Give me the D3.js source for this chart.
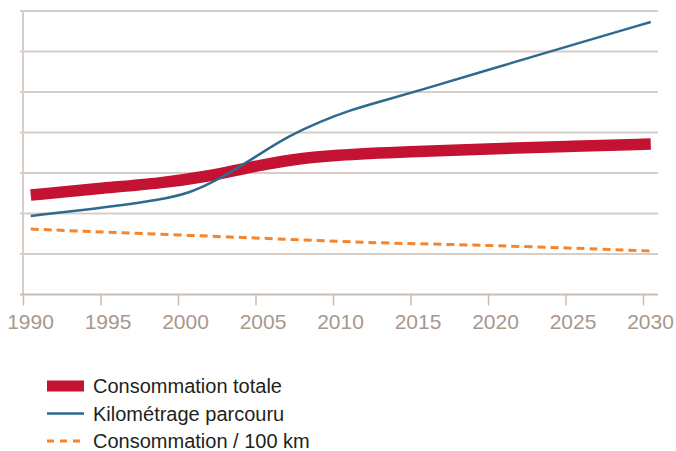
<!DOCTYPE html>
<html>
  <head>
    <meta charset="utf-8" />
    <script src="https://d3js.org/d3.v7.min.js"></script>
    <style>
      body { margin: 0; background: #fff; }
      text { font-family: "Liberation Sans", Arial, sans-serif; }
    </style>
  </head>
  <body>
    <div id="my_chart"></div>
    <script>
      // values (arbitrary index units, grid every 20)
      const yearTicks = [1990, 1995, 2000, 2005, 2010, 2015, 2020, 2025, 2030];
      const gridValues = [0, 20, 40, 60, 80, 100, 120, 140];

      const totalYears = [1990.5, 1995, 1998.9, 2002.1, 2004, 2005.3, 2007.2, 2010, 2015, 2020, 2025, 2030.5];
      const totalValues = [49.1, 52.5, 54.9, 58.6, 61.8, 63.8, 66.5, 68.9, 70.6, 71.9, 73.1, 74.3];

      const kmYears = [1990.5, 1995, 1998.9, 2000.8, 2002.1, 2003.4, 2005.3, 2007.2, 2009.2, 2011.1, 2013, 2015.6, 2020, 2025, 2030.5];
      const kmValues = [38.8, 42.7, 46.7, 50.3, 55, 60.3, 69.5, 78.5, 85.5, 91, 95.2, 100.8, 110.9, 122.2, 134.6];

      const per100Years = [1990.5, 2000, 2010, 2013, 2020, 2030.5];
      const per100Values = [32.3, 29.4, 26.4, 25.4, 24.4, 21.5];

      const legendLabels = ["Consommation totale", "Kilométrage parcouru", "Consommation / 100 km"];

      const width = 676, height = 451;
      const gridColor = "#d8cec8", axisColor = "#c9bcb3";

      const svg = d3.select("#my_chart")
        .append("svg")
        .attr("width", width)
        .attr("height", height);

      const x = d3.scaleLinear().domain([1990, 2030]).range([23, 643]);
      const y = d3.scaleLinear().domain([0, 140]).range([294.5, 11]);

      // horizontal grid
      svg.append("g")
        .selectAll("line")
        .data(gridValues.slice(1))
        .enter()
        .append("line")
        .attr("x1", 20)
        .attr("x2", 658)
        .attr("y1", (d) => y(d))
        .attr("y2", (d) => y(d))
        .attr("stroke", gridColor)
        .attr("stroke-width", 2);

      // y axis line
      svg.append("line")
        .attr("x1", x(1990)).attr("x2", x(1990))
        .attr("y1", y(140)).attr("y2", y(0))
        .attr("stroke", gridColor)
        .attr("stroke-width", 2);

      // x axis
      const xAxis = svg.append("g")
        .attr("transform", "translate(0," + y(0) + ")")
        .call(d3.axisBottom(x).tickValues(yearTicks).tickFormat(d3.format("d")).tickSize(11).tickSizeOuter(0));
      xAxis.select(".domain").remove();
      xAxis.insert("line", ":first-child")
        .attr("x1", 20).attr("x2", 658)
        .attr("stroke", axisColor).attr("stroke-width", 2);
      xAxis.selectAll(".tick line").attr("stroke", axisColor).attr("stroke-width", 1.5);
      xAxis.selectAll(".tick text")
        .attr("y", 34)
        .attr("dy", 0)
        .attr("dx", 7)
        .attr("fill", "#a8978b")
        .style("font-size", "21px")
        .style("font-family", "'Liberation Sans', Arial, sans-serif");

      const line = d3.line()
        .x((d) => x(d[0]))
        .y((d) => y(d[1]))
        .curve(d3.curveBasis);

      const pairs = (xs, vs) => xs.map((d, i) => [d, vs[i]]);

      svg.append("path")
        .datum(pairs(per100Years, per100Values))
        .attr("fill", "none")
        .attr("stroke", "#f5842a")
        .attr("stroke-width", 3)
        .attr("stroke-dasharray", "8,5")
        .attr("d", line);

      svg.append("path")
        .datum(pairs(totalYears, totalValues))
        .attr("fill", "none")
        .attr("stroke", "#c41232")
        .attr("stroke-width", 11.5)
        .attr("d", line);

      svg.append("path")
        .datum(pairs(kmYears, kmValues))
        .attr("fill", "none")
        .attr("stroke", "#2d6a8f")
        .attr("stroke-width", 2.5)
        .attr("d", line);

      // legend
      const legendStyles = [
        { color: "#c41232", w: 11, dash: null },
        { color: "#2d6a8f", w: 2.5, dash: null },
        { color: "#f5842a", w: 3, dash: "7,6" },
      ];
      const legend = svg.append("g");
      legendLabels.forEach((label, i) => {
        const ly = 386 + i * 27.5;
        const s = legendStyles[i];
        legend.append("line")
          .attr("x1", 47).attr("x2", 84)
          .attr("y1", ly).attr("y2", ly)
          .attr("stroke", s.color)
          .attr("stroke-width", s.w)
          .attr("stroke-dasharray", s.dash);
        legend.append("text")
          .attr("x", 93)
          .attr("y", ly + 7)
          .attr("fill", "#231f20")
          .style("font-size", "20px")
          .text(label);
      });
    </script>
  </body>
</html>
